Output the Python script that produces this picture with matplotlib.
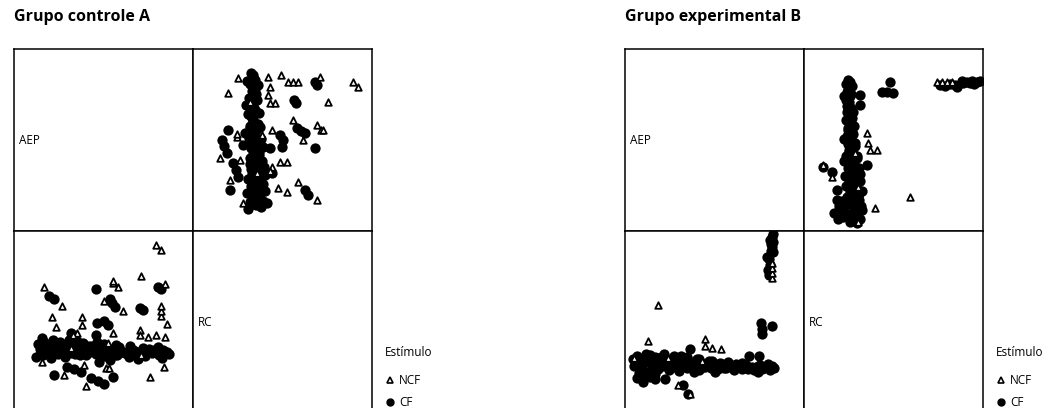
import matplotlib
matplotlib.use("Agg")
import matplotlib.pyplot as plt

plt.rcParams['font.family'] = ['Open Sans', 'DejaVu Sans']

A_CF_RC = [58, 60, 62, 57, 61, 59, 63, 56, 60, 58, 62, 55, 59, 61, 57, 63, 60, 56, 62, 58,
           64, 60, 57, 63, 61, 66, 59, 64, 62, 58, 65, 60, 67, 57, 63, 70, 55, 68,
           54, 65, 53, 66, 67, 52, 68, 70, 66, 69, 71, 58, 72, 55, 70, 54, 72, 61, 66,
           60, 57, 62, 59, 64, 56, 61, 63, 58, 60, 65, 57, 62, 59, 64, 61, 58, 66, 60, 63,
           57, 62, 68, 59, 64, 61, 66, 60,
           103, 101, 35, 29, 31, 34, 50, 40, 43, 45, 37, 122, 104, 108, 112, 87, 90, 89,
           122, 124, 112, 115, 74, 79, 77]
A_CF_AEP = [158, 154, 151, 147, 144, 140, 137, 133, 129, 125, 121, 117, 113, 109, 105, 101, 97, 93, 89, 85,
            81, 77, 73, 69, 65, 61, 57, 53, 49, 45, 41, 37, 33, 29, 26, 30, 22, 24,
            150, 146, 126, 118, 104, 98, 92, 84, 76, 70, 64, 62, 56, 52, 47, 38, 40, 31, 28,
            156, 149, 142, 135, 131, 127, 123, 119, 115, 111, 107, 103, 99, 95, 91, 87, 83, 79, 75, 71,
            67, 63, 59, 55, 51, 43, 35, 27,
            128, 131, 101, 91, 85, 78, 86, 68, 61, 54, 41, 83, 103, 100, 98, 96, 91, 84,
            149, 146, 41, 36, 28, 58, 83]
A_NCF_RC = [45, 88, 95, 100, 105, 127, 160, 165, 35, 135, 75, 77, 75, 82, 77, 57, 100, 124, 128,
            130, 110, 44, 44, 79, 69, 27, 87, 94, 47, 79, 37, 105, 85, 94, 124, 50, 64, 77]
A_NCF_AEP = [153, 156, 149, 149, 149, 154, 149, 144, 138, 129, 154, 144, 136, 128, 128, 129, 111, 106, 101,
             101, 91, 94, 97, 101, 96, 73, 69, 69, 71, 64, 51, 49, 43, 39, 31, 28, 58, 60]

B_CF_RC = [44, 42, 45, 43, 46, 42, 44, 47, 43, 45, 42, 46, 44, 48, 43, 46, 44, 49, 45, 42,
           47, 50, 44, 48, 52, 45, 49, 53, 46, 51, 55, 44, 50, 54, 42, 48, 56, 40,
           48, 40, 49, 50, 40, 51, 53, 40, 55, 41, 56, 42, 58, 43, 38, 57, 35,
           46, 44, 47, 45, 43, 47, 45, 48, 46, 44, 49, 47, 51, 45, 49, 53, 47, 52, 56, 46,
           50, 55, 44, 51, 58, 47, 53, 30, 34, 36,
           56, 56, 86, 83, 78, 89, 173, 159, 153, 166, 63, 19, 28, 33, 33, 39, 46, 53,
           136, 141, 146, 151, 158, 163, 168, 176, 170]
B_CF_AEP = [151, 147, 143, 139, 135, 131, 127, 123, 119, 115, 111, 107, 103, 99, 95, 91, 87, 83, 79, 75,
            71, 67, 63, 59, 55, 51, 47, 43, 39, 35, 31, 27, 23, 19, 15, 11, 12, 20,
            145, 135, 119, 105, 92, 88, 75, 70, 63, 55, 50, 45, 40, 34, 30, 25, 25,
            149, 141, 137, 129, 125, 121, 117, 113, 109, 101, 97, 93, 85, 81, 77, 73, 65, 61, 57, 53,
            49, 37, 33, 29, 21, 17, 13, 18, 12, 22,
            136, 126, 149, 139, 139, 138, 149, 148, 144, 148, 66, 64, 59, 41, 31, 14, 9, 8,
            146, 145, 147, 146, 150, 149, 150, 150, 147]
B_NCF_RC = [133, 138, 143, 148, 63, 64, 66, 73, 51, 19, 28, 54, 106, 71, 54]
B_NCF_AEP = [149, 149, 149, 149, 98, 88, 81, 81, 78, 66, 54, 44, 34, 23, 9]

W, H = 1050, 408


def cell(fig, x0, y0, w=179, h=182):
    ax = fig.add_axes([x0 / W, 1 - (y0 + h) / H, w / W, h / H])
    ax.set_xticks([])
    ax.set_yticks([])
    for s in ax.spines.values():
        s.set_linewidth(1.1)
        s.set_color('black')
    return ax


def scatter(ax, x_cf, y_cf, x_ncf, y_ncf):
    ax.scatter(x_cf, y_cf, s=55, marker='o', color='black', linewidths=0)
    ax.scatter(x_ncf, y_ncf, s=22, marker='^', facecolor='white', edgecolor='black', linewidths=1.3)


def group(fig, x0, title, cf_rc, cf_aep, ncf_rc, ncf_aep):
    fig.text(x0 / W, 1 - 17 / H, title, fontsize=11.5, fontweight='bold', va='center', ha='left')
    tl = cell(fig, x0, 49)
    tr = cell(fig, x0 + 179, 49)
    bl = cell(fig, x0, 231)
    br = cell(fig, x0 + 179, 231)
    tl.text(0.03, 0.5, 'AEP', transform=tl.transAxes, fontsize=8.5, va='center')
    br.text(0.03, 0.5, 'RC', transform=br.transAxes, fontsize=8.5, va='center')
    scatter(tr, cf_rc, cf_aep, ncf_rc, ncf_aep)
    tr.set_xlim(0, 179)
    tr.set_ylim(0, 182)
    scatter(bl, cf_aep, cf_rc, ncf_aep, ncf_rc)
    bl.set_xlim(0, 182)
    bl.set_ylim(0, 179)
    for a in (tl, br):
        a.set_xlim(0, 1)
        a.set_ylim(0, 1)
    # legend
    lx = x0 + 371
    fig.text(lx / W, 1 - 352 / H, 'Estímulo', fontsize=8.5, va='center')
    fig.text((lx + 14) / W, 1 - 381 / H, 'NCF', fontsize=8.5, va='center')
    fig.text((lx + 14) / W, 1 - 402 / H, 'CF', fontsize=8.5, va='center')
    fig.lines.append(plt.Line2D([(lx + 5) / W], [1 - 380 / H], transform=fig.transFigure,
                                marker='^', markersize=4, markerfacecolor='white',
                                markeredgecolor='black', markeredgewidth=1.2, linestyle='none'))
    fig.lines.append(plt.Line2D([(lx + 5) / W], [1 - 402 / H], transform=fig.transFigure,
                                marker='o', markersize=5, color='black', linestyle='none'))


fig = plt.figure(figsize=(W / 100, H / 100), dpi=100)
group(fig, 14, 'Grupo controle A', A_CF_RC, A_CF_AEP, A_NCF_RC, A_NCF_AEP)
group(fig, 625, 'Grupo experimental B', B_CF_RC, B_CF_AEP, B_NCF_RC, B_NCF_AEP)

fig.savefig('out.png', dpi=100)
